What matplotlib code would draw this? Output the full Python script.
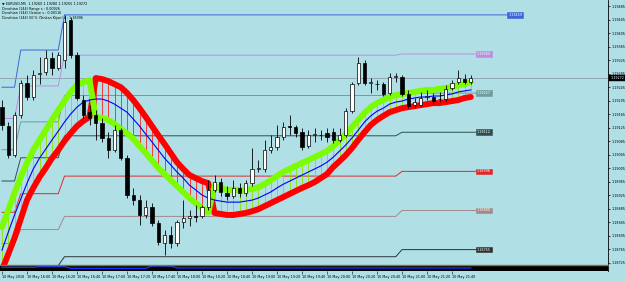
import matplotlib
matplotlib.use("Agg")
import matplotlib.pyplot as plt
from matplotlib.transforms import blended_transform_factory

# EURUSD M5, 10 May 2018 15:40 .. 21:55 (76 bars)
opens = [1.19186, 1.19130, 1.19044, 1.19163, 1.19257, 1.19216, 1.19284, 1.19290, 1.19331, 1.19302,
         1.19325, 1.19444, 1.19340, 1.19207, 1.19171, 1.19163, 1.19139, 1.19095, 1.19059, 1.19118,
         1.19035, 1.18926, 1.18911, 1.18867, 1.18890, 1.18843, 1.18784, 1.18807, 1.18784, 1.18846,
         1.18858, 1.18864, 1.18864, 1.18890, 1.18941, 1.18964, 1.18932, 1.18923, 1.18947, 1.18932,
         1.18961, 1.19003, 1.19003, 1.19059, 1.19068, 1.19097, 1.19130, 1.19127, 1.19112, 1.19071,
         1.19103, 1.19103, 1.19109, 1.19112, 1.19089, 1.19103, 1.19174, 1.19257, 1.19317, 1.19257,
         1.19254, 1.19254, 1.19228, 1.19275, 1.19275, 1.19225, 1.19192, 1.19192, 1.19216, 1.19216,
         1.19210, 1.19210, 1.19243, 1.19260, 1.19269, 1.19260]
highs = [1.19207, 1.19142, 1.19171, 1.19266, 1.19281, 1.19296, 1.19334, 1.19355, 1.19349, 1.19349,
         1.19459, 1.19452, 1.19349, 1.19222, 1.19192, 1.19177, 1.19154, 1.19112, 1.19133, 1.19124,
         1.19044, 1.18947, 1.18926, 1.18911, 1.18902, 1.18852, 1.18822, 1.18834, 1.18852, 1.18911,
         1.18881, 1.18896, 1.18896, 1.18970, 1.18985, 1.18976, 1.18952, 1.18970, 1.18961, 1.18970,
         1.19065, 1.19029, 1.19089, 1.19103, 1.19133, 1.19142, 1.19163, 1.19133, 1.19124, 1.19118,
         1.19124, 1.19118, 1.19124, 1.19124, 1.19124, 1.19183, 1.19260, 1.19334, 1.19325, 1.19272,
         1.19266, 1.19260, 1.19287, 1.19287, 1.19281, 1.19237, 1.19213, 1.19231, 1.19237, 1.19228,
         1.19231, 1.19251, 1.19266, 1.19296, 1.19284, 1.19280]
lows = [1.19118, 1.19035, 1.19038, 1.19154, 1.19207, 1.19207, 1.19254, 1.19281, 1.19281, 1.19296,
        1.19302, 1.19331, 1.19207, 1.19154, 1.19133, 1.19089, 1.19083, 1.19035, 1.19053, 1.19029,
        1.18917, 1.18896, 1.18837, 1.18858, 1.18834, 1.18778, 1.18748, 1.18769, 1.18775, 1.18828,
        1.18834, 1.18846, 1.18858, 1.18881, 1.18935, 1.18923, 1.18911, 1.18917, 1.18920, 1.18923,
        1.18952, 1.18994, 1.18994, 1.19050, 1.19059, 1.19089, 1.19103, 1.19097, 1.19059, 1.19065,
        1.19083, 1.19089, 1.19083, 1.19080, 1.19083, 1.19097, 1.19169, 1.19251, 1.19251, 1.19228,
        1.19237, 1.19219, 1.19222, 1.19260, 1.19219, 1.19183, 1.19183, 1.19189, 1.19207, 1.19195,
        1.19201, 1.19204, 1.19237, 1.19254, 1.19254, 1.19255]
closes = [1.19133, 1.19044, 1.19163, 1.19257, 1.19216, 1.19281, 1.19287, 1.19331, 1.19302, 1.19340,
          1.19438, 1.19340, 1.19213, 1.19163, 1.19154, 1.19139, 1.19095, 1.19059, 1.19118, 1.19035,
          1.18926, 1.18911, 1.18867, 1.18890, 1.18843, 1.18787, 1.18807, 1.18784, 1.18846, 1.18858,
          1.18864, 1.18861, 1.18890, 1.18941, 1.18964, 1.18935, 1.18923, 1.18947, 1.18932, 1.18961,
          1.19003, 1.19006, 1.19059, 1.19068, 1.19097, 1.19127, 1.19127, 1.19109, 1.19068, 1.19103,
          1.19106, 1.19103, 1.19097, 1.19089, 1.19103, 1.19174, 1.19254, 1.19317, 1.19257, 1.19260,
          1.19254, 1.19225, 1.19275, 1.19278, 1.19225, 1.19189, 1.19201, 1.19213, 1.19219, 1.19204,
          1.19210, 1.19240, 1.19257, 1.19272, 1.19260, 1.19272]

# channel lines (upper / lower MA) and the thin blue middle line
upper = [1.18831, 1.18881, 1.18932, 1.18979, 1.19021, 1.19059, 1.19089, 1.19118, 1.19148, 1.19177,
         1.19204, 1.19231, 1.19251, 1.19260, 1.19266, 1.19272, 1.19269, 1.19263, 1.19254, 1.19245,
         1.19228, 1.19207, 1.19183, 1.19157, 1.19130, 1.19103, 1.19077, 1.19050, 1.19023, 1.19003,
         1.18985, 1.18976, 1.18967, 1.18961, 1.18952, 1.18947, 1.18941, 1.18941, 1.18941, 1.18941,
         1.18944, 1.18949, 1.18958, 1.18970, 1.18982, 1.18994, 1.19003, 1.19012, 1.19021, 1.19029,
         1.19038, 1.19047, 1.19056, 1.19071, 1.19089, 1.19106, 1.19127, 1.19148, 1.19169, 1.19186,
         1.19198, 1.19207, 1.19216, 1.19222, 1.19225, 1.19228, 1.19231, 1.19234, 1.19237, 1.19237,
         1.19240, 1.19243, 1.19245, 1.19251, 1.19254, 1.19260]
lower = [1.18704, 1.18751, 1.18799, 1.18855, 1.18911, 1.18947, 1.18979, 1.19006, 1.19035, 1.19059,
         1.19086, 1.19109, 1.19130, 1.19145, 1.19157, 1.19157, 1.19154, 1.19148, 1.19136, 1.19121,
         1.19109, 1.19092, 1.19071, 1.19050, 1.19029, 1.19006, 1.18988, 1.18970, 1.18952, 1.18935,
         1.18917, 1.18902, 1.18887, 1.18875, 1.18873, 1.18870, 1.18867, 1.18867, 1.18870, 1.18873,
         1.18878, 1.18884, 1.18893, 1.18902, 1.18911, 1.18920, 1.18929, 1.18938, 1.18947, 1.18955,
         1.18964, 1.18976, 1.18988, 1.19009, 1.19026, 1.19044, 1.19065, 1.19089, 1.19112, 1.19133,
         1.19148, 1.19160, 1.19171, 1.19177, 1.19183, 1.19186, 1.19189, 1.19192, 1.19195, 1.19198,
         1.19198, 1.19201, 1.19204, 1.19207, 1.19213, 1.19216]
middle = [1.18763, 1.18816, 1.18867, 1.18914, 1.18961, 1.19003, 1.19035, 1.19062, 1.19089, 1.19115,
          1.19142, 1.19166, 1.19186, 1.19201, 1.19207, 1.19210, 1.19210, 1.19204, 1.19195, 1.19183,
          1.19171, 1.19151, 1.19130, 1.19106, 1.19083, 1.19059, 1.19035, 1.19015, 1.18994, 1.18976,
          1.18955, 1.18941, 1.18926, 1.18917, 1.18911, 1.18908, 1.18905, 1.18905, 1.18905, 1.18908,
          1.18911, 1.18917, 1.18926, 1.18935, 1.18947, 1.18958, 1.18967, 1.18976, 1.18985, 1.18994,
          1.19003, 1.19012, 1.19023, 1.19038, 1.19056, 1.19074, 1.19095, 1.19118, 1.19142, 1.19160,
          1.19174, 1.19183, 1.19195, 1.19201, 1.19204, 1.19210, 1.19213, 1.19216, 1.19216, 1.19219,
          1.19219, 1.19222, 1.19225, 1.19231, 1.19234, 1.19237]
trend = [1] * 15 + [-1] * 19 + [1] * 42

# Donchian(144) high / low
don_high = [1.19245] * 3 + [1.19355] * 7 + [1.19459] * 66
don_low = [1.18505] * 64 + [1.18533] * 12

sub_blue = [3.7] * 6 + [4.3] * 5 + [2.7] * 13 + [5.0] * 4 + [3.0] * 48

yticks = [1.19485, 1.19445, 1.19405, 1.19365, 1.19325, 1.19285, 1.19245, 1.19205, 1.19165, 1.19125,
          1.19085, 1.19045, 1.19005, 1.18965, 1.18925, 1.18885, 1.18845, 1.18805, 1.18765, 1.18725]
time_pos = [0, 4, 8, 12, 16, 20, 24, 28, 32, 36, 40, 44, 48, 52, 56, 60, 64, 68, 72]
time_labels = ["10 May 2018", "10 May 16:00", "10 May 16:20", "10 May 16:40", "10 May 17:00",
               "10 May 17:20", "10 May 17:40", "10 May 18:00", "10 May 18:20", "10 May 18:40",
               "10 May 19:00", "10 May 19:20", "10 May 19:40", "10 May 20:00", "10 May 20:20",
               "10 May 20:40", "10 May 21:00", "10 May 21:20", "10 May 21:40"]

level_colors = {8: "#3f63d8", 7: "#b98fe0", 6: "#6f9c9c", 5: "#2f4f4f",
                4: "#e02828", 3: "#a08a8a", 2: "#303030"}

BG = "#b0e0e6"
n = len(closes)
bars = list(range(n))

fig = plt.figure(figsize=(6.25, 2.81), dpi=100)
fig.patch.set_facecolor(BG)
ax = fig.add_axes([0, 1 - 265 / 281, 608 / 625, 265 / 281])
sub = fig.add_axes([0, 1 - 271 / 281, 608 / 625, 6 / 281])
ax.set_facecolor(BG)
ax.set_xlim(-0.32, 96.96)
ax.set_ylim(1.18719, 1.19503)

# Donchian octave levels
for k, col in level_colors.items():
    lv = [lo + k / 8 * (hi - lo) for hi, lo in zip(don_high, don_low)]
    xend = 81 if k == 8 else 76
    ax.plot(bars + [xend], lv + [lv[-1]], color=col, lw=0.7, zorder=1)
    ax.text(xend, lv[-1], "%.5f" % lv[-1], fontsize=2.4, color="white", va="center", ha="left",
            zorder=6, bbox=dict(boxstyle="square,pad=0.25", fc=col, ec=col, lw=0.4))

# bid line
ax.axhline(closes[-1], color="#8c9fae", lw=0.6, zorder=1)

# histogram between the two channel lines
vcols = ["#8ee000" if t > 0 else "#ff2020" for t in trend]
ax.vlines(bars, lower, upper, colors=vcols, lw=0.6, zorder=2)

green = [u if t > 0 else l for u, l, t in zip(upper, lower, trend)]
red = [l if t > 0 else u for u, l, t in zip(upper, lower, trend)]
ax.plot(bars, red, color="#ff0000", lw=4.3, solid_joinstyle="round", solid_capstyle="round", zorder=3)
ax.plot(bars, green, color="#7cfc00", lw=4.3, solid_joinstyle="round", solid_capstyle="round", zorder=3)
ax.plot(bars, middle, color="#0000ff", lw=0.8, zorder=4)

# candles
ax.vlines(bars, lows, highs, colors="black", lw=0.6, zorder=5)
bottoms = [min(o, c) for o, c in zip(opens, closes)]
heights = [max(abs(c - o), 0.000012) for o, c in zip(opens, closes)]
fc = ["white" if c > o else "black" for o, c in zip(opens, closes)]
ax.bar(bars, heights, bottom=bottoms, width=0.55, color=fc, edgecolor="black", lw=0.5, zorder=6)

# right price scale
ax.yaxis.tick_right()
ax.set_yticks(yticks)
ax.set_yticklabels(["%.5f" % v for v in yticks])
ax.tick_params(axis="y", direction="out", length=1.5, width=0.5, pad=1, labelsize=2.4, colors="black")
ax.tick_params(axis="x", bottom=False, labelbottom=False)
for s in ["left", "top", "bottom"]:
    ax.spines[s].set_visible(False)
ax.spines["right"].set_linewidth(0.6)

tr = blended_transform_factory(ax.transAxes, ax.transData)
ax.text(1.004, closes[-1], "%.5f" % closes[-1], transform=tr, fontsize=2.4, color="white",
        va="center", ha="left", zorder=7, clip_on=False,
        bbox=dict(boxstyle="square,pad=0.3", fc="black", ec="black", lw=0.3))

# small indicator window
sub.set_facecolor("black")
sub.set_xlim(-0.32, 96.96)
sub.set_ylim(0, 6)
sub.fill_between(bars[6:11], [4.3] * 5, [6] * 5, color="#8b0000", lw=0)
sub.plot(bars, sub_blue, color="#1030ff", lw=1.0)
sub.set_yticks([])
sub.set_xticks(time_pos)
sub.set_xticklabels(time_labels)
for lab in sub.get_xticklabels():
    lab.set_ha("left")
sub.tick_params(axis="x", direction="out", length=2, width=0.4, pad=1.2, labelsize=2.4)
for s in ["left", "bottom"]:
    sub.spines[s].set_visible(False)
sub.spines["top"].set_color("#8b7326")
sub.spines["top"].set_linewidth(1.0)
sub.spines["right"].set_linewidth(0.6)

# header
fig.text(0.004, 1 - 4 / 281, "\u25bc EURUSD,M5  %.5f %.5f %.5f %.5f" % (opens[-1], highs[-1], lows[-1], closes[-1]),
         fontsize=2.4, va="center")
rng = don_high[-1] - don_low[-1]
fig.text(0.004, 1 - 9 / 281, "Donchian (144) Range s : %.5f" % rng, fontsize=2.4, va="center")
fig.text(0.004, 1 - 13.5 / 281, "Donchian (144) Octave s : %.5f" % (rng / 8), fontsize=2.4, va="center")
fig.text(0.004, 1 - 18 / 281, "Donchian (144) 50 %% (Tenkan Kijun) s : %.5f" % ((don_high[-1] + don_low[-1]) / 2),
         fontsize=2.4, va="center")

fig.savefig("out.png", dpi=100, facecolor=BG)
